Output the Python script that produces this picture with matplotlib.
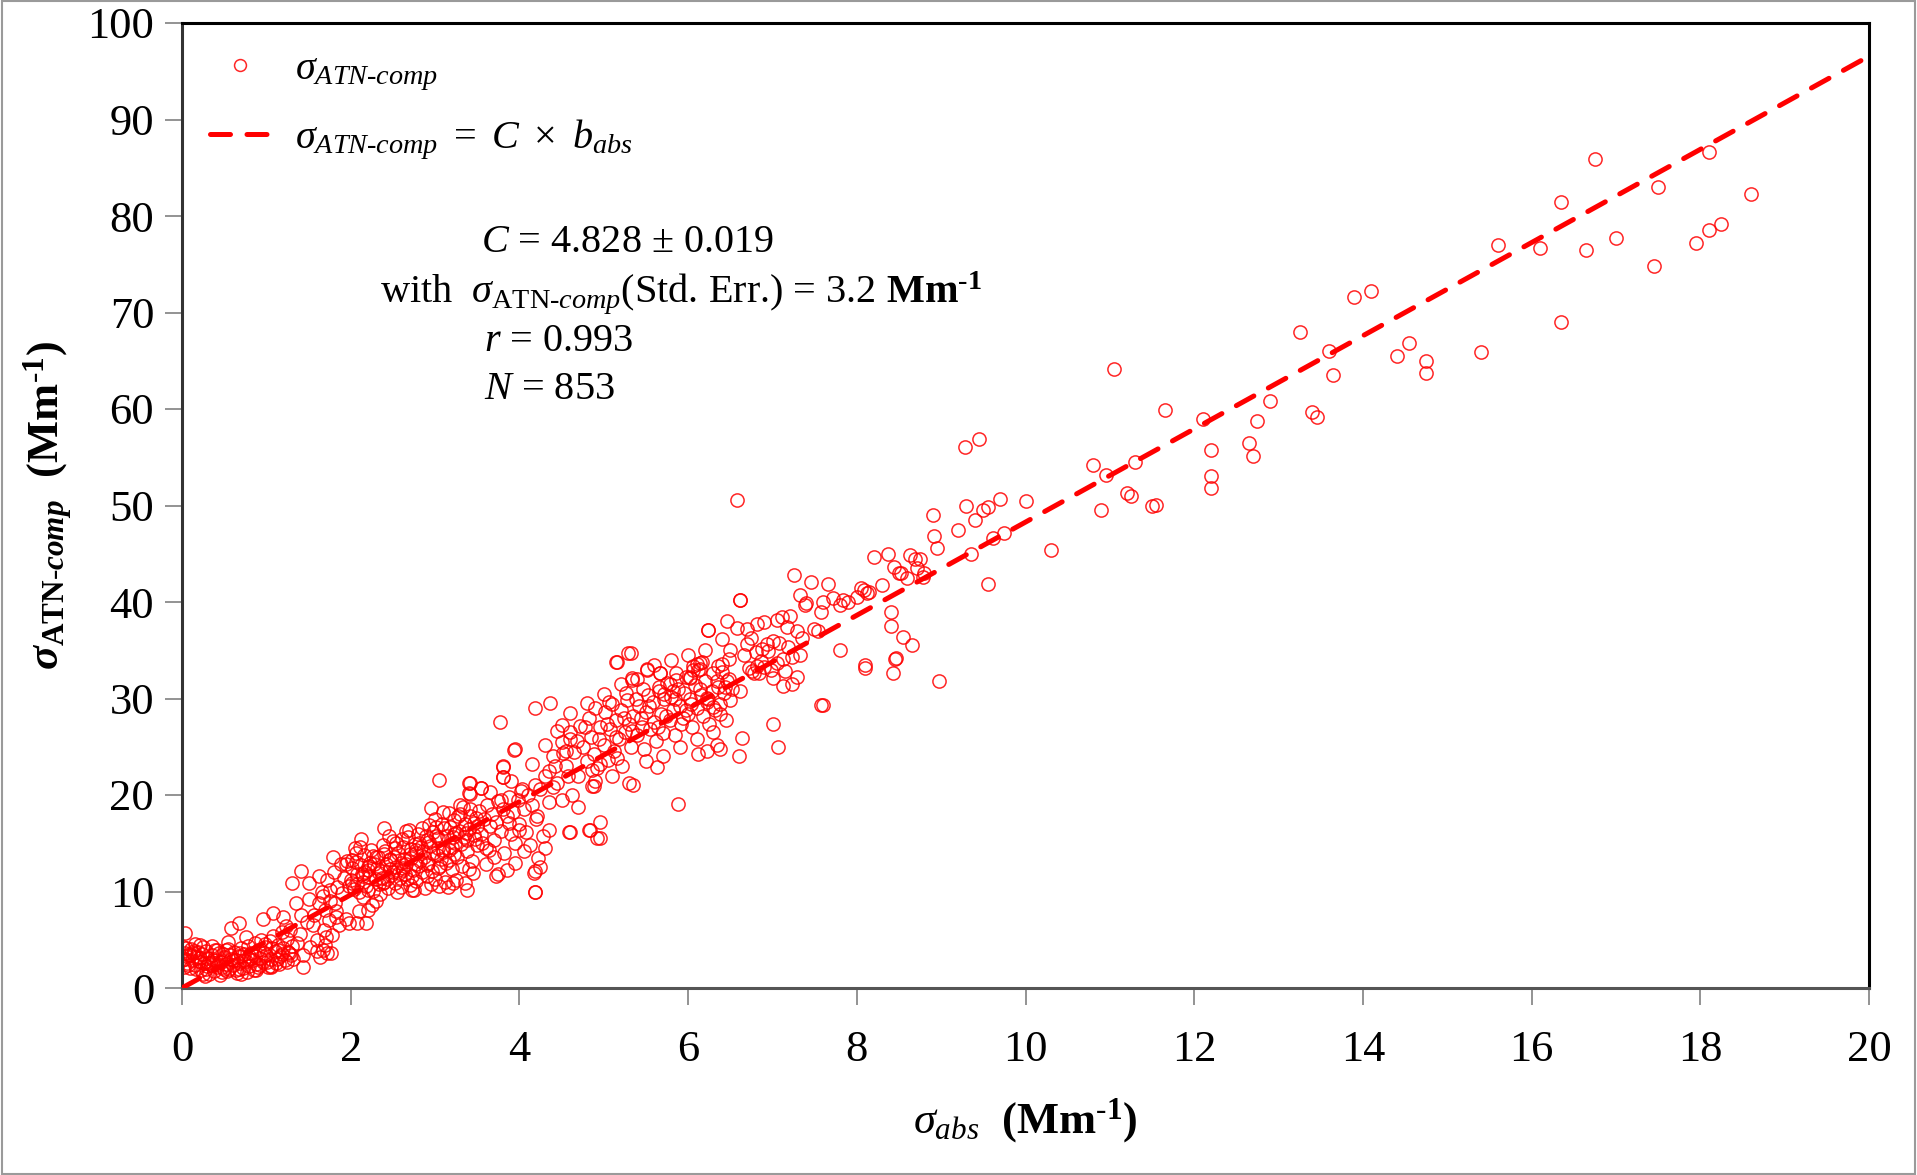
import matplotlib
matplotlib.use("Agg")
import matplotlib.pyplot as plt
from matplotlib.patches import Rectangle

plt.rcParams['font.family'] = ['Liberation Serif', 'DejaVu Serif']
plt.rcParams['mathtext.fontset'] = 'custom'
plt.rcParams['mathtext.rm'] = 'Liberation Serif'
plt.rcParams['mathtext.it'] = 'Liberation Serif:italic'
plt.rcParams['mathtext.bf'] = 'Liberation Serif:bold'
plt.rcParams['mathtext.bfit'] = 'Liberation Serif:italic:bold'

# ---------------- data ----------------
low_x = [0.02,0.04,0.06,0.08,0.1,0.12,0.14,0.16,0.18,0.2,0.22,0.24,0.26,0.28,0.3,0.32,0.34,0.36,0.38,0.4,
         0.42,0.44,0.46,0.48,0.5,0.52,0.54,0.56,0.58,0.6,0.62,0.64,0.66,0.68,0.7,0.72,0.74,0.76,0.78,0.8,
         0.82,0.84,0.86,0.88,0.9,0.92,0.94,0.96,0.98,1.0,1.02,1.04,1.06,1.08,1.1,1.12,1.14,1.16,1.18,1.2,
         1.22,1.24,1.26,1.28,1.3,0.15,0.35,0.55,0.25,0.45,0.65,0.85,1.05,0.05,0.1,0.3,0.5,0.7,0.9,1.15,
         0.03,0.01,0.0,0.05,0.13,0.21,0.27,0.25,0.33,0.41,0.47,0.52,0.58,0.68,0.70,0.64,0.76,0.80,0.88,0.96,
         0.98,1.08,1.06,1.14,1.2,1.23,1.27,
         0.03,0.07,0.11,0.17,0.19,0.23,0.29,0.31,0.37,0.39,0.43,0.49,0.53,0.57,0.61,0.67,0.69,0.73,0.77,0.81,
         0.87,0.93,0.97,1.01,1.07,1.13,1.19,1.25,1.29,0.21]
low_y = [2.2,3.0,2.6,3.5,2.1,2.9,3.8,2.4,3.2,2.8,1.9,3.5,2.6,2.0,3.1,1.5,2.4,3.4,1.8,2.9,
         2.2,3.6,2.7,1.7,3.2,2.5,4.0,2.0,3.0,2.4,3.7,1.9,3.3,2.6,4.1,2.1,3.5,2.8,4.4,2.3,
         3.6,2.9,4.7,2.5,3.9,3.1,5.0,2.7,4.2,3.4,2.2,4.9,3.0,5.4,3.8,2.6,4.5,3.3,5.8,4.1,
         2.9,5.1,3.7,6.0,4.4,4.6,4.4,4.8,1.4,1.3,1.6,1.9,2.3,4.1,3.4,2.3,2.0,3.3,2.2,2.5,
         5.7,4.3,2.9,3.3,3.6,3.1,1.2,4.3,2.6,3.9,2.2,3.9,6.2,6.7,1.5,2.9,5.3,3.3,1.9,7.1,
         4.6,7.8,2.2,3.9,7.4,6.4,3.6,
         3.6,2.4,4.0,2.0,3.7,2.7,3.8,2.6,2.9,3.9,2.5,3.5,1.8,3.4,2.9,2.0,3.6,2.9,1.7,3.0,
         3.3,2.4,3.6,2.7,4.1,3.0,3.5,2.7,3.4,4.5]

rise_x = [1.32,1.36,1.4,1.44,1.48,1.52,1.56,1.6,1.62,1.64,1.66,1.68,1.7,1.72,1.74,1.76,1.78,1.8,1.82,1.84,
          1.86,1.88,1.9,1.92,1.94,1.96,1.98,1.72,1.6,1.5,1.35,1.41,1.31,1.41,1.51,1.43,1.55,1.63,1.67,1.69,
          1.75,1.81,1.79,1.71,1.67,1.77,1.83,1.94,2.06,1.98,2.08,2.18,2.12,2.2]
rise_y = [3.0,4.7,5.6,3.4,6.8,4.2,7.6,5.0,8.8,3.2,10.0,6.0,4.5,11.2,7.0,9.0,5.5,12.0,8.0,10.5,
          6.5,12.8,9.8,11.4,7.2,13.2,10.6,3.6,3.8,9.2,8.8,7.6,10.9,12.1,10.9,2.2,6.5,11.6,9.5,8.1,
          10.2,8.8,13.6,5.3,3.9,3.6,7.4,12.9,14.0,6.7,6.7,6.7,15.4,8.1]

band2_x = [2.0,2.02,2.04,2.06,2.08,2.1,2.12,2.14,2.16,2.18,2.2,2.22,2.24,2.26,2.28,2.3,2.05,2.15,2.25,2.1,2.3,
           2.32,2.34,2.36,2.38,2.4,2.42,2.44,2.46,2.48,2.5,2.52,2.54,2.56,2.58,2.6,2.35,2.45,2.55,2.4,2.5,2.6,2.33,
           2.62,2.64,2.66,2.68,2.7,2.72,2.74,2.76,2.78,2.8,2.82,2.84,2.86,2.88,2.9,2.65,2.75,2.85,2.7,2.8,2.9,2.62,2.78,
           2.92,2.94,2.96,2.98,3.0,3.02,3.04,3.06,3.08,3.1,3.12,3.14,3.16,3.18,3.2,2.95,3.05,3.15,3.0,3.1,3.2,2.93,3.03,3.13,
           3.22,3.24,3.26,3.28,3.3,3.32,3.34,3.36,3.38,3.4,3.42,3.44,3.46,3.48,3.5,3.25,3.35,3.45,3.3,3.4,3.5,3.22,3.38,3.46,
           2.02,2.14,2.22,2.30,2.38,2.40,2.54,2.46,2.62,2.69,2.77,2.73,2.89,2.95,3.01,3.05,3.09,3.17,3.21,3.25,3.33,3.40,3.40,3.38,
           2.01,2.07,2.11,2.17,2.21,2.27,2.31,2.37,2.41,2.47,2.51,2.57,2.61,2.67,2.71,2.77,2.81,2.87,2.91,2.97,
           3.01,3.07,3.11,3.17,3.21,3.27,3.31,3.37,3.41,3.47,2.13,2.23,2.43,2.53,2.63,2.73,2.83,2.93,3.03,3.23]
band2_y = [11.2,12.4,10.3,13.1,11.8,9.9,12.7,11.0,13.8,10.6,12.2,11.5,14.3,10.1,12.9,11.3,14.5,9.4,8.6,8.0,9.0,
           13.6,10.8,12.1,14.8,11.0,12.8,10.4,13.4,11.7,15.2,10.9,12.5,14.0,11.4,13.0,9.7,15.8,9.9,13.9,12.0,10.5,11.9,
           14.6,11.8,12.9,15.6,10.7,13.5,12.2,14.9,11.1,16.0,13.2,12.0,14.2,10.4,15.3,16.3,10.2,16.6,13.9,12.6,11.6,12.4,14.0,
           13.0,14.7,12.1,16.2,11.3,13.8,15.5,12.6,17.0,14.1,11.0,15.8,13.3,16.7,12.3,10.8,10.6,10.5,17.5,18.2,14.6,15.1,14.5,13.0,
           17.4,15.0,13.6,16.3,18.0,12.6,15.6,17.0,14.2,16.5,18.5,13.2,15.9,17.6,14.8,11.2,10.9,11.9,19.0,12.3,16.8,16.0,15.3,17.1,
           10.9,11.6,12.6,13.6,10.9,16.6,15.0,13.3,12.2,16.4,14.3,10.2,15.7,18.7,16.7,21.6,14.3,18.1,10.9,16.1,18.8,21.2,20.2,10.2,
           13.3,10.8,14.6,12.0,10.2,13.7,12.4,11.4,14.2,12.3,13.6,11.9,15.4,11.3,14.4,12.8,15.0,13.6,12.7,14.0,
           15.8,13.4,16.6,14.3,15.6,17.8,14.9,16.1,17.8,15.4,11.8,13.0,11.3,14.5,13.4,11.6,14.6,16.9,12.4,13.9]

band3_x = [3.52,3.55,3.58,3.6,3.62,3.65,3.68,3.7,3.72,3.75,3.78,3.8,3.82,3.85,3.88,3.9,3.92,3.95,3.98,4.0,
           4.02,4.05,4.08,4.1,4.12,4.15,4.18,4.2,4.22,4.25,4.28,4.3,3.6,3.7,3.85,3.95,4.05,4.25,3.75,3.65,
           3.9,4.15,4.35,4.3,4.4,3.54,3.56,3.64,3.72,3.78,3.80,3.80,3.88,3.94,4.03,3.99,4.17,4.19,4.21,4.35,
           4.59,4.86,4.82,4.92,3.77,4.18,4.36,3.95,3.81,3.81,3.41,3.55,3.41,4.18,4.18,4.88,4.96,4.84,4.96,4.60,
           4.3,4.45,4.5,4.55,4.6]
band3_y = [18.3,16.0,17.5,14.5,19.0,16.8,18.0,15.3,17.2,19.4,16.3,18.6,14.0,17.8,19.8,16.0,18.2,15.0,19.5,17.0,
           20.4,18.5,16.2,20.0,14.8,19.0,21.0,17.5,13.5,20.6,15.8,22.0,12.8,13.6,12.2,13.0,14.2,12.5,11.8,20.3,
           21.5,23.2,19.3,14.5,20.8,20.7,15.0,14.3,11.6,19.5,23.0,21.9,17.1,24.7,20.6,16.4,11.9,10.0,17.8,16.4,
           16.2,20.9,16.4,15.5,27.6,29.0,29.5,24.8,22.9,21.9,21.2,20.7,20.1,12.1,10.0,20.9,17.2,16.4,15.5,16.2,
           25.2,26.6,27.3,24.6,25.8]

band4_x = [4.35,4.4,4.45,4.5,4.55,4.6,4.62,4.65,4.7,4.72,4.75,4.8,4.82,4.85,4.88,4.9,4.92,4.95,5.0,5.02,
           5.05,5.08,5.1,5.12,5.15,5.18,5.2,5.22,5.25,5.28,5.3,5.32,5.35,5.38,5.4,5.42,5.45,5.48,5.5,5.52,
           5.55,5.58,5.6,5.62,5.65,5.68,5.7,5.72,5.75,5.78,5.8,5.82,5.85,5.88,5.9,5.92,5.95,5.98,6.0,6.02,
           6.05,6.08,6.1,6.12,6.15,6.18,6.2,6.22,6.25,6.28,6.3,6.32,6.35,6.38,6.4,6.42,6.45,6.48,6.5,
           4.5,4.7,4.9,5.1,5.3,5.5,5.7,5.9,6.1,6.3,4.6,4.8,5.0,5.2,5.4,5.6,5.8,6.0,6.2,6.4,
           5.35,5.63,5.88,5.15,5.29,5.33,5.51,5.67,6.02,6.10,6.14,6.24,6.12,6.22,6.34,6.38,6.64,6.60,7.07,7.01,
           4.42,4.52,4.58,4.68,4.78,4.86,4.94,5.04,5.14,5.24,5.34,5.44,5.54,5.64,5.74,5.84,5.94,6.04,6.14,6.24,
           6.34,6.44,5.06,5.26,5.46,5.66,5.86,6.06,4.96,5.16]
band4_y = [22.5,24.0,21.2,25.5,23.0,26.5,20.0,24.5,22.0,27.2,25.0,23.5,28.0,26.0,24.2,29.0,22.8,27.0,25.2,28.6,
           23.6,26.8,29.4,24.6,27.8,25.8,28.8,23.0,26.5,29.8,27.4,25.0,28.2,30.0,26.2,29.2,27.0,24.8,28.6,30.4,
           26.8,29.6,27.6,25.6,30.8,28.4,26.4,29.9,31.6,27.8,30.2,28.8,26.2,31.0,29.2,27.4,30.6,32.2,28.4,30.0,
           27.0,31.4,29.0,33.0,30.4,28.2,31.8,29.6,27.4,30.8,32.6,28.8,31.2,29.4,33.6,30.6,27.8,32.0,29.8,
           19.5,18.8,21.5,22.0,21.2,23.5,24.0,25.0,25.8,26.5,28.5,29.5,30.5,31.5,32.0,33.5,34.0,34.5,35.0,36.2,
           21.0,22.9,19.1,33.8,34.7,31.9,33.0,32.6,32.1,33.6,33.7,37.1,24.3,24.6,25.2,24.8,25.9,24.0,25.0,27.4,
           23.0,24.4,22.0,25.6,27.0,22.6,25.8,27.4,26.0,28.0,26.6,28.0,29.2,27.0,28.2,30.0,28.0,29.4,31.0,30.0,
           31.8,31.2,29.6,30.6,31.0,31.2,32.6,33.0,23.2,23.8]

band5_x = [7.25,7.46,7.66,7.33,7.40,7.58,7.72,7.80,6.62,6.46,6.24,6.58,6.70,6.82,6.90,6.74,6.70,6.93,7.01,7.05,
           7.11,7.21,7.17,7.29,7.35,7.49,7.54,7.19,7.13,7.23,7.33,7.29,7.23,7.13,7.01,6.82,6.76,6.84,6.90,6.78,
           6.50,6.48,6.36,6.40,6.46,6.52,6.62,7.58,6.16,6.14,6.06,6.02,5.86,5.78,5.82,5.71,5.98,6.22,6.30,6.38,
           5.67,5.51,5.33,5.16,5.32,6.58,6.62,7.39,7.60,7.84,6.8,6.86,6.95,7.05,7.15,6.66,6.72,6.88,6.98,7.08]
band5_y = [42.8,42.1,41.9,40.7,39.9,39.0,40.4,39.7,40.2,38.0,37.1,37.3,37.2,37.7,37.9,36.3,35.6,35.6,36.0,38.1,
           38.4,38.6,37.4,37.0,36.3,37.2,37.0,35.3,34.1,34.3,34.5,32.2,31.5,31.3,32.1,33.4,32.9,32.6,33.3,32.6,
           35.0,34.1,33.4,32.7,31.8,31.0,30.8,29.3,33.8,33.1,33.4,32.2,31.9,31.5,30.8,30.5,28.8,30.1,29.1,28.4,
           32.6,33.1,32.1,33.8,34.7,50.6,40.2,39.7,40.0,40.2,34.8,33.9,34.9,33.7,32.8,34.5,33.2,35.1,33.0,35.8]

high_x = [7.6,7.8,7.9,8.0,8.05,8.1,8.1,8.15,8.2,8.3,8.4,8.41,8.43,8.45,8.47,8.5,8.52,8.55,8.6,8.63,
          8.65,8.69,8.71,8.75,8.79,8.8,8.9,8.91,8.95,8.97,9.2,9.3,9.28,9.35,9.4,9.45,9.5,9.55,9.55,9.62,
          9.7,9.75,10.0,10.3,10.8,10.9,10.95,11.05,11.2,11.25,11.3,11.5,11.55,11.65,12.1,12.2,12.2,12.2,12.65,12.7,
          12.75,12.9,13.25,13.4,13.45,13.6,13.65,13.9,14.1,14.4,14.55,14.75,14.75,15.4,15.6,16.1,16.35,16.35,16.65,16.75,
          17.0,17.45,17.5,17.95,18.1,18.1,18.25,18.6,8.37,8.08,8.12,8.44]
high_y = [29.3,35.0,40.0,40.5,41.5,33.5,33.2,41.0,44.7,41.8,39.0,37.5,32.6,34.1,34.2,43.0,43.0,36.4,42.5,44.9,
          35.5,44.5,43.5,44.5,42.6,43.0,49.0,46.8,45.6,31.8,47.5,49.9,56.1,45.0,48.5,56.9,49.5,49.8,41.9,46.6,
          50.7,47.2,50.5,45.4,54.2,49.5,53.2,64.1,51.3,51.0,54.5,50.0,50.1,59.9,59.0,53.1,51.8,55.8,56.5,55.1,
          58.8,60.8,68.0,59.7,59.2,66.0,63.5,71.6,72.2,65.5,66.8,63.7,65.0,65.9,77.0,76.7,69.0,81.4,76.5,85.9,
          77.7,74.8,83.0,77.2,86.6,78.6,79.2,82.3,45.0,41.2,40.9,43.6]

fit_slope = 4.828
fit_x = [0.0, 20.0]

x_ticks = [0, 2, 4, 6, 8, 10, 12, 14, 16, 18, 20]
y_ticks = [0, 10, 20, 30, 40, 50, 60, 70, 80, 90, 100]

xs = low_x + rise_x + band2_x + band3_x + band4_x + band5_x + high_x
ys = low_y + rise_y + band2_y + band3_y + band4_y + band5_y + high_y

# ---------------- figure ----------------
fig = plt.figure(figsize=(19.17, 11.75), dpi=100)
ax = fig.add_axes([182/1917, 1-988/1175, (1869-182)/1917, (988-23)/1175])

red = '#FF0000'
pts, = ax.plot(xs, ys, 'o', ms=9.5, mfc='none', mec=red, mew=1.1, alpha=0.85,
               label=r'$\sigma_{ATN\text{-}comp}$', zorder=2)
fy = [fit_slope * v for v in fit_x]
ln, = ax.plot(fit_x, fy, color=red, lw=3.6, dashes=[4.0, 3.3], dash_capstyle='round',
              label=r'$\sigma_{ATN\text{-}comp}\ =\ C\ \times\ b_{abs}$', zorder=3)

ax.set_xlim(0, 20)
ax.set_ylim(0, 100)
ax.set_xticks(x_ticks)
ax.set_yticks(y_ticks)
ax.tick_params(axis='both', direction='out', length=12, width=1.2, color='#808080',
               labelsize=32, pad=8)
ax.tick_params(axis='x', pad=18)
for s in ['top', 'right', 'left', 'bottom']:
    ax.spines[s].set_linewidth(2.2)
    ax.spines[s].set_color('black')
ax.spines['bottom'].set_color('#555555')
ax.spines['left'].set_color('#333333')

ax.set_xlabel(r'$\mathit{\sigma}_{\mathit{abs}}$  (Mm$^{\text{-}\mathbf{1}}$)', fontsize=32,
              fontweight='bold', labelpad=19)
ax.set_ylabel(r'$\mathbfit{\sigma}_{\mathbf{ATN}\text{-}\mathbfit{comp}}$  (Mm$^{\text{-}\mathbf{1}}$)',
              fontsize=32, fontweight='bold', labelpad=9)

leg = ax.legend(handles=[pts, ln], loc='upper left', bbox_to_anchor=(0.0, 1.0),
                frameon=False, fontsize=29, handlelength=1.5, handletextpad=0.6,
                labelspacing=0.6, markerscale=0.9, borderaxespad=0.3)

ax.text(5.28, 77.3, r'$C$ = 4.828 ± 0.019', fontsize=29, ha='center', va='center')
ax.text(2.35, 72.1, r'with  $\sigma_{\mathrm{ATN}\text{-}comp}$(Std. Err.) = 3.2 $\mathbf{Mm}^{\text{-}\mathbf{1}}$',
        fontsize=29, ha='left', va='center')
ax.text(3.58, 67.0, r'$r$ = 0.993', fontsize=29, ha='left', va='center')
ax.text(3.58, 62.0, r'$N$ = 853', fontsize=29, ha='left', va='center')

fig.patches.append(Rectangle((0.001, 0.001), 0.998, 0.998, transform=fig.transFigure,
                             fill=False, edgecolor='#9a9a9a', lw=1.5))

fig.savefig('out.png', dpi=100)
